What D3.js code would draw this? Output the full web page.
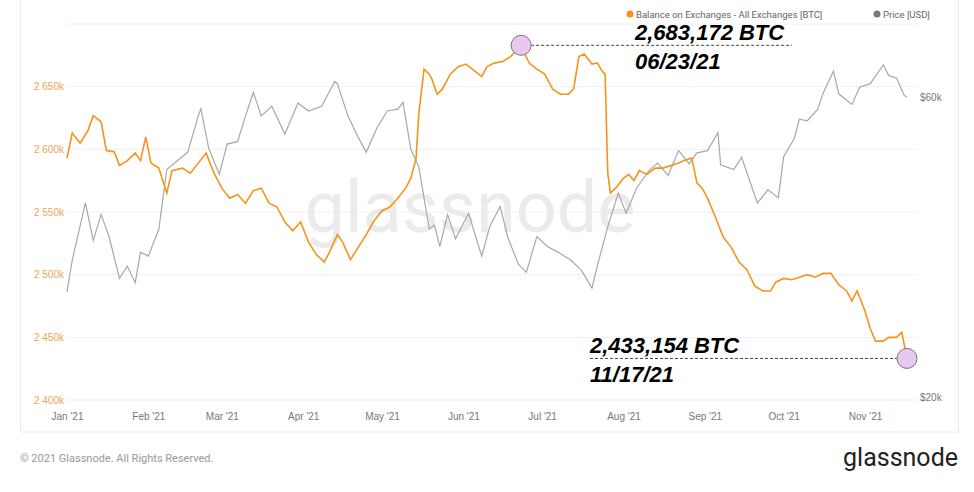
<!DOCTYPE html>
<html>
<head>
<meta charset="utf-8">
<script src="https://cdn.jsdelivr.net/npm/d3@7"></script>
<style>
  body { margin: 0; background: #fff; font-family: Roboto, "Noto Sans", sans-serif; }
  .axis text { font-size: 10px; }
  .axis path, .axis line { display: none; }
</style>
</head>
<body>
<div id="chart"></div>
<script>
var svgWidth = 974;
var svgHeight = 492;

// Balance on exchanges, thousands of BTC
var balanceDates = ["2021-01-01","2021-01-03","2021-01-06","2021-01-09","2021-01-11","2021-01-14","2021-01-16","2021-01-19","2021-01-21","2021-01-24","2021-01-27","2021-01-29","2021-01-31","2021-02-02","2021-02-05","2021-02-08","2021-02-10","2021-02-14","2021-02-17","2021-02-20","2021-02-23","2021-02-26","2021-03-01","2021-03-04","2021-03-07","2021-03-10","2021-03-13","2021-03-16","2021-03-19","2021-03-22","2021-03-25","2021-03-28","2021-03-31","2021-04-03","2021-04-06","2021-04-09","2021-04-11","2021-04-14","2021-04-16","2021-04-19","2021-04-22","2021-04-25","2021-04-28","2021-05-01","2021-05-04","2021-05-07","2021-05-10","2021-05-12","2021-05-14","2021-05-15","2021-05-17","2021-05-19","2021-05-20","2021-05-22","2021-05-24","2021-05-27","2021-05-30","2021-06-02","2021-06-05","2021-06-08","2021-06-10","2021-06-13","2021-06-16","2021-06-19","2021-06-23","2021-06-26","2021-06-29","2021-07-02","2021-07-05","2021-07-08","2021-07-11","2021-07-13","2021-07-15","2021-07-17","2021-07-20","2021-07-22","2021-07-24","2021-07-25","2021-07-26","2021-07-27","2021-07-29","2021-08-01","2021-08-03","2021-08-05","2021-08-07","2021-08-10","2021-08-13","2021-08-16","2021-08-19","2021-08-22","2021-08-24","2021-08-27","2021-08-29","2021-08-31","2021-09-02","2021-09-05","2021-09-08","2021-09-11","2021-09-14","2021-09-17","2021-09-20","2021-09-23","2021-09-26","2021-09-28","2021-10-01","2021-10-04","2021-10-07","2021-10-10","2021-10-13","2021-10-16","2021-10-19","2021-10-22","2021-10-25","2021-10-27","2021-10-29","2021-11-01","2021-11-03","2021-11-05","2021-11-08","2021-11-10","2021-11-13","2021-11-15","2021-11-17"];
var balanceValues = [2593,2613,2605,2615,2627,2622,2599,2598,2587,2591,2597,2591,2610,2589,2585,2565,2583,2585,2581,2589,2597,2581,2569,2561,2564,2557,2567,2569,2557,2554,2542,2535,2542,2526,2516,2510,2518,2532,2526,2512,2522,2532,2543,2551,2554,2561,2569,2577,2593,2628,2664,2660,2656,2644,2648,2660,2666,2668,2663,2658,2666,2669,2670,2674,2683,2669,2664,2660,2648,2644,2644,2648,2674,2676,2668,2669,2662,2660,2581,2565,2569,2577,2580,2575,2583,2580,2585,2585,2587,2589,2591,2593,2573,2569,2561,2546,2530,2522,2510,2504,2491,2487,2487,2494,2497,2496,2498,2500,2498,2501,2501,2492,2487,2479,2487,2471,2457,2447,2447,2450,2450,2454,2433.154];

// Price, thousands of USD
var priceDates = ["2021-01-01","2021-01-03","2021-01-08","2021-01-11","2021-01-14","2021-01-17","2021-01-21","2021-01-24","2021-01-27","2021-01-29","2021-02-01","2021-02-05","2021-02-08","2021-02-12","2021-02-16","2021-02-20","2021-02-21","2021-02-24","2021-02-28","2021-03-03","2021-03-07","2021-03-10","2021-03-13","2021-03-16","2021-03-20","2021-03-25","2021-03-30","2021-04-03","2021-04-08","2021-04-13","2021-04-14","2021-04-18","2021-04-22","2021-04-25","2021-04-29","2021-05-03","2021-05-07","2021-05-09","2021-05-12","2021-05-15","2021-05-19","2021-05-21","2021-05-23","2021-05-26","2021-05-29","2021-06-03","2021-06-08","2021-06-11","2021-06-15","2021-06-18","2021-06-22","2021-06-25","2021-06-29","2021-07-03","2021-07-07","2021-07-12","2021-07-16","2021-07-20","2021-07-22","2021-07-26","2021-07-30","2021-08-02","2021-08-06","2021-08-11","2021-08-14","2021-08-18","2021-08-22","2021-08-26","2021-08-29","2021-09-02","2021-09-06","2021-09-07","2021-09-12","2021-09-15","2021-09-21","2021-09-25","2021-09-29","2021-10-01","2021-10-05","2021-10-07","2021-10-10","2021-10-14","2021-10-16","2021-10-20","2021-10-22","2021-10-27","2021-10-30","2021-11-03","2021-11-08","2021-11-10","2021-11-13","2021-11-16","2021-11-17"];
var priceValues = [29.4,33,40.7,35.5,39,36,30.9,32.3,30.4,34,33.5,37,46,47.5,49,56,57.5,49.7,45.2,50.5,51,56,61,56,58,52.4,58.7,57,58,63.5,63,56,51.7,49,53.5,57,57.4,58.8,49.5,46.5,37,37.5,34.7,39,35.7,39.2,33.5,37.3,40.2,35.8,32.5,31.6,36,34.7,34,33,31.8,29.8,32.3,37.3,42.2,39.2,43,46,47.1,45,49.3,47,48.9,49.3,52.7,46.8,46,48.1,40.7,42.7,41.5,48.2,51.5,55.3,55,57.4,60.8,66,60.7,58.4,62.2,63,67.5,64.9,64.3,60.3,60];

var leftTicks = [2400, 2450, 2500, 2550, 2600, 2650];
var rightTicks = [20, 60];
var monthTicks = ["2021-01-01","2021-02-01","2021-03-01","2021-04-01","2021-05-01","2021-06-01","2021-07-01","2021-08-01","2021-09-01","2021-10-01","2021-11-01"];
var seriesNames = ["Balance on Exchanges - All Exchanges [BTC]", "Price [USD]"];

var parse = d3.timeParse("%Y-%m-%d");
var balance = balanceDates.map((d, i) => ({ date: parse(d), value: balanceValues[i] }));
var price = priceDates.map((d, i) => ({ date: parse(d), value: priceValues[i] }));

var orange = "#f7931a";
var grey = "#a8a8a8";

var svg = d3.select("#chart").append("svg")
  .attr("width", svgWidth)
  .attr("height", svgHeight);

// card border
svg.append("rect")
  .attr("x", 20.5).attr("y", -1).attr("width", 938).attr("height", 433)
  .attr("fill", "none").attr("stroke", "#ececec");

var xScale = d3.scaleTime()
  .domain([parse("2021-01-01"), parse("2021-11-17")])
  .range([67, 907]);

var yLeft = d3.scaleLinear()
  .domain([2400, 2700])
  .range([400, 24]);

var yRight = d3.scaleLog()
  .domain([20, 60])
  .range([397, 97]);

// gridlines
svg.append("g").selectAll("line")
  .data(leftTicks.concat([2700]))
  .enter().append("line")
  .attr("x1", 67).attr("x2", 918)
  .attr("y1", d => yLeft(d)).attr("y2", d => yLeft(d))
  .attr("stroke", "#f0f0f0");

// watermark
svg.append("text")
  .attr("x", 470).attr("y", 232)
  .attr("text-anchor", "middle")
  .style("font-size", "72px").style("font-family", "Roboto, sans-serif")
  .style("fill", "#ebebeb")
  .text("glassnode");

// axes
var leftAxis = d3.axisLeft(yLeft).tickValues(leftTicks).tickSize(0)
  .tickFormat(d => "2 " + String(d).slice(1) + "k");
svg.append("g").attr("class", "axis")
  .attr("transform", "translate(64,0)")
  .call(leftAxis)
  .selectAll("text").style("fill", "#e8a55a").attr("x", 0);

var rightAxis = d3.axisRight(yRight).tickValues(rightTicks).tickSize(0)
  .tickFormat(d => "$" + d + "k");
svg.append("g").attr("class", "axis")
  .attr("transform", "translate(917,0)")
  .call(rightAxis)
  .selectAll("text").style("fill", "#777");

var bottomAxis = d3.axisBottom(xScale)
  .tickValues(monthTicks.map(parse)).tickSize(0)
  .tickFormat(d3.timeFormat("%b '%y"));
svg.append("g").attr("class", "axis")
  .attr("transform", "translate(0,410)")
  .call(bottomAxis)
  .selectAll("text").style("fill", "#777");

// lines
var priceLine = d3.line().x(d => xScale(d.date)).y(d => yRight(d.value));
svg.append("path").datum(price)
  .attr("d", priceLine).attr("fill", "none")
  .attr("stroke", grey).attr("stroke-width", 1.2);

var balanceLine = d3.line().x(d => xScale(d.date)).y(d => yLeft(d.value));
svg.append("path").datum(balance)
  .attr("d", balanceLine).attr("fill", "none")
  .attr("stroke", orange).attr("stroke-width", 1.6);

// legend
var legend = svg.append("g").attr("transform", "translate(630,14)");
legend.append("circle").attr("cx", 0).attr("cy", 0).attr("r", 3.5).attr("fill", orange);
legend.append("text").attr("x", 6).attr("y", 3.5).style("font-size", "9.5px").style("fill", "#666").text(seriesNames[0]);
legend.append("circle").attr("cx", 247).attr("cy", 0).attr("r", 3.5).attr("fill", "#777");
legend.append("text").attr("x", 253).attr("y", 3.5).style("font-size", "9.5px").style("fill", "#666").text(seriesNames[1]);

// annotations: value above the dashed line, date below
function annotate(d, lineFrom, lineTo, textX, valueText, dateText) {
  var cx = xScale(d.date), cy = yLeft(d.value);
  svg.append("line")
    .attr("x1", lineFrom).attr("x2", lineTo).attr("y1", cy).attr("y2", cy)
    .attr("stroke", "#444").attr("stroke-dasharray", "3,2");
  svg.append("circle").attr("cx", cx).attr("cy", cy).attr("r", 10)
    .attr("fill", "#e9c8ef").attr("stroke", "#777").attr("stroke-width", 1);
  svg.append("text").attr("x", textX).attr("y", cy - 5)
    .style("font-size", "22px").style("font-weight", "bold").style("font-style", "italic")
    .style("font-family", "Liberation Sans, Arial, sans-serif").text(valueText);
  svg.append("text").attr("x", textX).attr("y", cy + 24)
    .style("font-size", "22px").style("font-weight", "bold").style("font-style", "italic")
    .style("font-family", "Liberation Sans, Arial, sans-serif").text(dateText);
}
var peak = balance[balanceDates.indexOf("2021-06-23")];
var last = balance[balance.length - 1];
annotate(peak, xScale(peak.date), 792, 635, "2,683,172 BTC", "06/23/21");
annotate(last, 590, xScale(last.date), 590, "2,433,154 BTC", "11/17/21");

// footer
svg.append("text").attr("x", 20).attr("y", 462)
  .style("font-size", "11px").style("fill", "#999")
  .text("© 2021 Glassnode. All Rights Reserved.");
svg.append("text").attr("x", 958).attr("y", 466).attr("text-anchor", "end")
  .style("font-size", "25px").style("fill", "#222").style("font-family", "Roboto, sans-serif")
  .text("glassnode");
</script>
</body>
</html>
